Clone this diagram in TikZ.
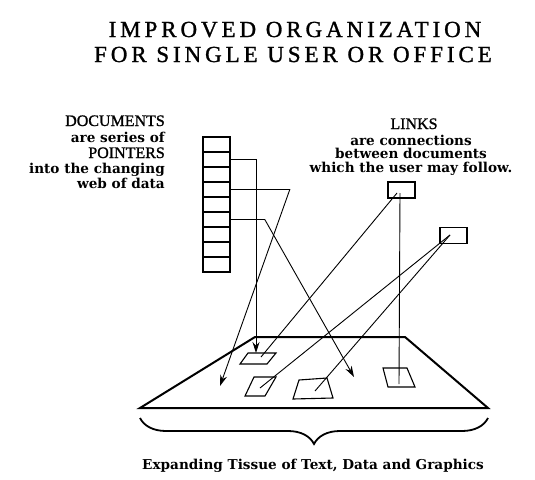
\documentclass[tikz,border=0pt]{standalone}
\usepackage{fontspec}
\setmainfont{Liberation Serif}
\newfontfamily\slabfont{DejaVu Serif}
\newfontfamily\headfont{Liberation Serif}[FakeBold=1.2]
\usetikzlibrary{arrows.meta,calc,positioning,decorations.pathreplacing}

\begin{document}
\begin{tikzpicture}[x=1pt,y=-1pt,
  cell/.style={draw,line width=1.6pt,minimum width=27pt,minimum height=15pt,inner sep=0pt},
  linkbox/.style={draw,line width=1.4pt,minimum width=27pt,minimum height=16pt,inner sep=0pt},
  ptr/.style={line width=0.9pt,-{Stealth[length=11pt,width=7pt]}},
  lnk/.style={line width=0.9pt},
  title/.style={font=\headfont\addfontfeature{LetterSpace=17}\fontsize{23}{26}\selectfont},
  caps/.style={font=\headfont\fontsize{16}{17}\selectfont,inner sep=0pt},
  small/.style={font=\slabfont\bfseries\fontsize{13.6}{14}\selectfont,inner sep=0pt}]
\useasboundingbox (0,0) rectangle (535,479);

% title
\node[title,anchor=base] (t1) at (295,37) {IMPROVED ORGANIZATION};
\node[title,anchor=base] (t2) at (293,62) {FOR SINGLE USER OR OFFICE};

% documents text
\node[caps,anchor=base east] (d1) at (165,126) {DOCUMENTS};
\node[small,anchor=base east] (d2) at (165,142) {are series of};
\node[caps,anchor=base east] (d3) at (165,158) {POINTERS};
\node[small,anchor=base east] (d4) at (165,173) {into the changing};
\node[small,anchor=base east] (d5) at (165,188) {web of data};

% links text
\node[caps,anchor=base] (k1) at (414,129) {LINKS};
\node[small,anchor=base] (k2) at (411,145) {are connections};
\node[small,anchor=base] (k3) at (411,158) {between documents};
\node[small,anchor=base] (k4) at (411,172) {which the user may follow.};

% document column
\foreach \i in {1,...,9}
  \node[cell] (c\i) at (216.5,{137+15*(\i-0.5)}) {};

% link boxes
\node[linkbox] (l1) at (401.5,190) {};
\node[linkbox] (l2) at (453.5,235.5) {};
\coordinate (l1in) at (397,193);
\coordinate (l1dn) at (400,193);
\coordinate (l2in) at (450,235);

% the plane
\draw[line width=2pt,line join=miter] (255,337) coordinate(P1) -- (405,337) coordinate(P2) -- (488,408) coordinate(P3) -- (140,408) coordinate(P4) -- cycle;

% small pieces on the plane
\draw[line width=1.1pt] (248,353) -- (276,353) -- (267,364) -- (240,364) -- cycle;
\draw[line width=1.1pt] (254,377) -- (276,377) -- (265,396) -- (245,396) -- cycle;
\draw[line width=1.1pt] (299,380) -- (327,378) -- (333,398) -- (293,399) -- cycle;
\draw[line width=1.1pt] (383,368) -- (407,368) -- (415,387) -- (388,387) -- cycle;

\coordinate (a1) at (256,353);
\coordinate (a2) at (220,386);
\coordinate (a3) at (354,377);
\coordinate (e1) at (261,357);
\coordinate (e2) at (399,384);
\coordinate (e3) at (260,388);
\coordinate (e4) at (315,391);

% pointers
\draw[ptr] (c2.east) -| (a1);
\draw[ptr] (c4.east) -- ++(59,0) -- (a2);
\draw[ptr] (c6.east) -- ++(34,0) -- (a3);

% links
\draw[lnk] (l1in) -- (e1);
\draw[lnk] (l1dn) -- (e2);
\draw[lnk] (l2in) -- (e3);
\draw[lnk] (l2in) -- (e4);

% brace
\draw[line width=1.8pt,decorate,decoration={brace,amplitude=26pt}] (488,418) -- (140,418);
\node[small,anchor=base] (b1) at (313,469) {Expanding Tissue of Text, Data and Graphics};
\end{tikzpicture}
\end{document}
